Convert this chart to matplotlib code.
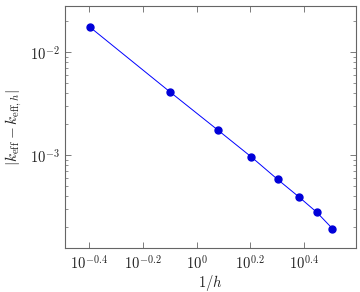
import numpy as np
import matplotlib
matplotlib.use("Agg")
import matplotlib.pyplot as plt
from matplotlib.ticker import FixedLocator, FixedFormatter, LogLocator, NullFormatter

plt.rcParams['mathtext.fontset'] = 'cm'
plt.rcParams['font.family'] = ['DejaVu Serif']

inv_h = [0.4, 0.8, 1.2, 1.6, 2.0, 2.4, 2.8, 3.2]
err = [0.01746, 0.00405, 0.001746, 0.000957, 0.000582, 0.000394, 0.000279, 0.000194]
xtick_exps = [-0.4, -0.2, 0, 0.2, 0.4]
xtick_labels = [r'$10^{-0.4}$', r'$10^{-0.2}$', r'$10^{0}$', r'$10^{0.2}$', r'$10^{0.4}$']

fig = plt.figure(figsize=(3.6, 2.92), dpi=100)
ax = fig.add_axes([0.1806, 0.1507, 0.8084, 0.8283])
ax.plot(inv_h, err, color=(0, 0, 1), lw=0.7, marker='o', ms=5.0, mfc=(0, 0, 0.85), mec=(0, 0, 0.85))
ax.set_xscale('log')
ax.set_yscale('log')
ax.set_xlim(10**-0.489, 10**0.593)
ax.set_ylim(10**-3.900, 10**-1.558)

ax.xaxis.set_major_locator(FixedLocator([10**e for e in xtick_exps]))
ax.xaxis.set_major_formatter(FixedFormatter(xtick_labels))
ax.xaxis.set_minor_locator(FixedLocator([]))
ax.yaxis.set_major_locator(FixedLocator([1e-3, 1e-2]))
ax.yaxis.set_major_formatter(FixedFormatter([r'$10^{-3}$', r'$10^{-2}$']))
ax.yaxis.set_minor_locator(LogLocator(base=10, subs=np.arange(2, 10)))
ax.yaxis.set_minor_formatter(NullFormatter())

for s in ax.spines.values():
    s.set_color('#666666')
    s.set_linewidth(0.8)
ax.tick_params(which='both', direction='in', top=True, right=True, colors='#666666', labelcolor='#222222', labelsize=10.5)
ax.tick_params(which='major', length=4, width=0.6)
ax.tick_params(which='minor', length=2.5, width=0.5)
ax.tick_params(axis='x', pad=4)
ax.tick_params(axis='y', pad=4)

ax.set_xlabel(r'$1/h$', fontsize=10.5, labelpad=1, color='#222222')
ax.set_ylabel(r'$|k_{\mathrm{eff}} - k_{\mathrm{eff},h}|$', fontsize=11, labelpad=4, color='#222222')

fig.savefig('out.png', dpi=100)
